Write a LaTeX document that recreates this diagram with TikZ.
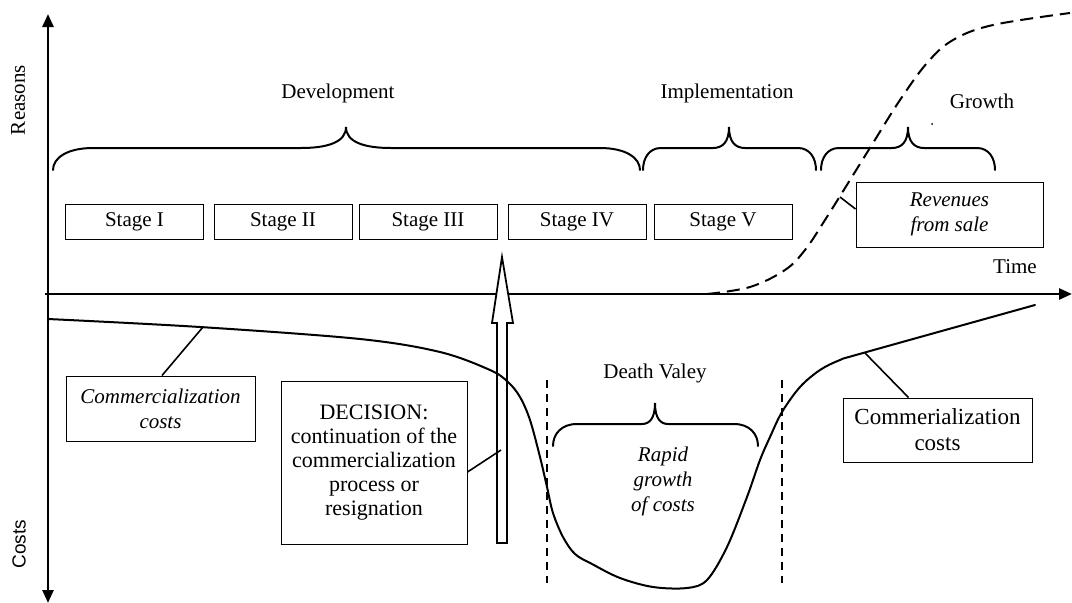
\documentclass[tikz,border=0pt]{standalone}
\usepackage{fontspec}
\setmainfont{Liberation Serif}
\newfontfamily\arialfont{Liberation Sans}
\usetikzlibrary{arrows.meta}
\newcommand{\hbr}[6]{% xl, xtip, xr, yend, wEnd, wTip
  \draw[bracestyle] (#1,#4) .. controls (#1,{#4-12}) and ({#1+0.35*#5},{#4-22}) .. ({#1+#5},{#4-22})
   -- ({#2-#6},{#4-22}) .. controls ({#2-0.4*#6},{#4-22}) and (#2,{#4-28}) .. (#2,{#4-43})
   .. controls (#2,{#4-28}) and ({#2+0.4*#6},{#4-22}) .. ({#2+#6},{#4-22})
   -- ({#3-#5},{#4-22}) .. controls ({#3-0.35*#5},{#4-22}) and (#3,{#4-12}) .. (#3,#4);}
\begin{document}
\begin{tikzpicture}[x=1pt,y=-1pt,
  lbl/.style={font=\fontsize{21}{24}\selectfont, inner sep=0pt, align=center},
  ilbl/.style={font=\fontsize{21}{25}\selectfont\itshape, inner sep=0pt, align=center},
  stagebox/.style={draw, line width=1pt, minimum width=138pt, minimum height=35pt, inner sep=0pt, font=\fontsize{21}{24}\selectfont},
  textbox/.style={draw, line width=1pt, inner sep=0pt, align=center},
  axis/.style={line width=2.6pt},
  curve/.style={line width=2pt, line join=round, line cap=round},
  bracestyle/.style={line width=2pt, line cap=round},
  conn/.style={line width=1.6pt},
  vdash/.style={line width=1.8pt, dash pattern=on 8pt off 6pt},
  revdash/.style={line width=2pt, dash pattern=on 13pt off 7pt}
]
\useasboundingbox (0,0) rectangle (1072,603);
\fill[white] (0,0) rectangle (1072,603);

% axes
\coordinate (ytop) at (48,14);
\coordinate (ybot) at (48,603);
\coordinate (xl) at (45,294);
\coordinate (xr) at (1072,294);
\draw[axis, {Triangle[length=13pt,width=11pt]}-{Triangle[length=13pt,width=11pt]}] (ybot) -- (ytop);
\draw[axis, -{Triangle[length=13pt,width=11pt]}] (xl) -- (xr);

\node[lbl, rotate=90] (reasons) at (18,100) {Reasons};
\node[font=\arialfont\fontsize{19}{22}\selectfont, inner sep=0pt, rotate=90] (costs) at (19,544) {Costs};
\node[lbl] (time) at (1015,267) {Time};

% braces and phase labels
\hbr{53}{346}{640}{170}{40}{45}
\hbr{643}{729}{816}{170}{18}{16}
\hbr{821}{908}{995}{170}{18}{16}
\hbr{553}{655}{758}{446}{24}{13}
\node[lbl] (dev) at (338,93) {Development};
\node[lbl] (impl) at (727,93) {Implementation};
\node[lbl] (growth) at (982,101) {Growth};
\fill (932,124) circle (1pt);

% stages
\node[stagebox] (s1) at (134.5,221.5) {Stage I};
\node[stagebox] (s2) at (283,221.5) {Stage II};
\node[stagebox] (s3) at (428,221.5) {Stage III};
\node[stagebox] (s4) at (577,221.5) {Stage IV};
\node[stagebox] (s5) at (723,221.5) {Stage V};

% revenues curve
\draw[revdash] plot[smooth, tension=0.6] coordinates {(707,294) (750,287) (785,270) (805,250) (825,220) (850,180) (873,143) (900,100) (927,63) (953,40) (993,25) (1070,13)};
\coordinate (revpt) at (840,197);
\node[textbox, ilbl, minimum width=187pt, minimum height=65pt] (rev) at (949.5,214.5) {Revenues\\from sale};
\draw[conn] ([yshift=5.5pt]rev.west) -- (revpt);

% decision arrow (hollow)
\filldraw[fill=white, draw=black, line width=1.8pt, line join=miter] (497,543) -- (497,323) -- (492,323) -- (502,257) -- (513,323) -- (507,323) -- (507,543) -- cycle;
\coordinate (decpt) at (501,450);

% dashed verticals
\coordinate (v1t) at (547,380); \coordinate (v1b) at (547,583);
\coordinate (v2t) at (782,380); \coordinate (v2b) at (782,583);
\draw[vdash] (v1t) -- (v1b);
\draw[vdash] (v2t) -- (v2b);

% cost curve
\draw[curve] plot[smooth, tension=0.55] coordinates {(48,319) (200,327) (360,339) (440,352) (490,370) (508,382) (520,397) (530,420) (540,457) (547,487) (553,513) (563,537) (575,554) (592,564) (620,578) (653,587) (687,588) (707,580) (727,547) (747,497) (760,460) (770,437) (782,412) (800,387) (820,370) (840,360) (863,353) (1035,305)};
\coordinate (cL) at (203,327);
\coordinate (cR) at (865,353);

\node[textbox, ilbl, minimum width=189pt, minimum height=65pt] (cc) at (160.5,408.5) {Commercialization\\costs};
\draw[conn] (cL) -- ([xshift=1.5pt]cc.north);

\node[textbox, font=\fontsize{22}{24}\selectfont, minimum width=186pt, minimum height=163pt] (dec) at (374,462.5) {DECISION:\\continuation of the\\commercialization\\process or\\resignation};
\draw[conn] ([yshift=-9.5pt]dec.east) -- (decpt);

\node[textbox, font=\fontsize{23}{26}\selectfont, minimum width=189pt, minimum height=64pt] (cr) at (937.5,430) {Commerialization\\costs};
\draw[conn] (cR) -- ([xshift=66pt]cr.north west);

\node[lbl] (dv) at (655,373) {Death Valey};
\node[ilbl] (rapid) at (663,481) {Rapid\\growth\\of costs};
\end{tikzpicture}
\end{document}
